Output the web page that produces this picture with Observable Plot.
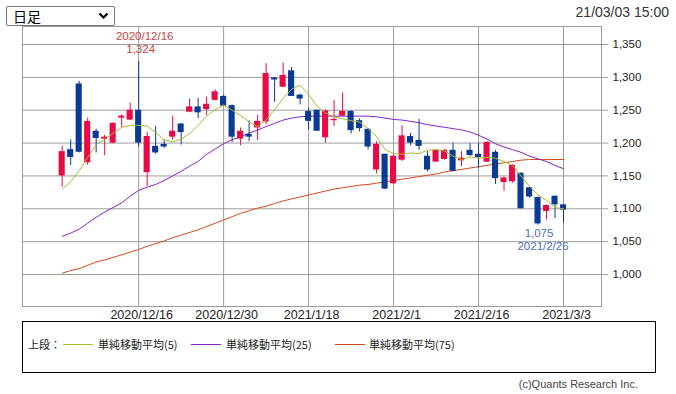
<!DOCTYPE html>
<html><head><meta charset="utf-8">
<script src="https://cdn.jsdelivr.net/npm/d3@7"></script>
<script src="https://cdn.jsdelivr.net/npm/@observablehq/plot@0.6"></script>
<style>
body{margin:0;background:#fff;width:676px;height:394px;position:relative;overflow:hidden;font-family:"Liberation Sans",Arial,sans-serif;}
#chart{position:absolute;left:0;top:0;}
#sel{position:absolute;left:6px;top:6px;width:107px;height:18px;border:1px solid #767676;border-radius:2px;background:#fff;}
#sel span{position:absolute;left:6px;top:0px;font:14px/19px "Noto Sans CJK JP",sans-serif;color:#000;}
#sel svg{position:absolute;right:5px;top:5px;}
#stamp{position:absolute;right:7px;top:3px;font:14px/18px "Liberation Sans",Arial,sans-serif;color:#333;}
#legend{position:absolute;left:22px;top:321px;width:632px;height:50px;border:1px solid #000;}
.lt{position:absolute;top:14px;font:11px/16px "Noto Sans CJK JP",sans-serif;color:#222;white-space:nowrap;}
.ll{position:absolute;top:22px;height:1px;width:30px;}
#copy{position:absolute;right:38px;top:377px;font:11px/14px "Liberation Sans",Arial,sans-serif;color:#444;}
</style></head>
<body>
<div id="chart"></div>
<div id="sel"><span>日足</span><svg width="11" height="8" viewBox="0 0 11 8"><path d="M1.5 1.5 L5.5 5.5 L9.5 1.5" stroke="#000" stroke-width="2.2" fill="none"/></svg></div>
<div id="stamp">21/03/03 15:00</div>
<div id="legend"></div>
<div id="copy">(c)Quants Research Inc.</div>
<script>
const dates = [
 "2020/12/3","2020/12/4","2020/12/7","2020/12/8","2020/12/9","2020/12/10","2020/12/11","2020/12/14","2020/12/15","2020/12/16",
 "2020/12/17","2020/12/18","2020/12/21","2020/12/22","2020/12/23","2020/12/24","2020/12/25","2020/12/28","2020/12/29","2020/12/30",
 "2021/1/4","2021/1/5","2021/1/6","2021/1/7","2021/1/8","2021/1/12","2021/1/13","2021/1/14","2021/1/15","2021/1/18",
 "2021/1/19","2021/1/20","2021/1/21","2021/1/22","2021/1/25","2021/1/26","2021/1/27","2021/1/28","2021/1/29","2021/2/1",
 "2021/2/2","2021/2/3","2021/2/4","2021/2/5","2021/2/8","2021/2/9","2021/2/10","2021/2/12","2021/2/15","2021/2/16",
 "2021/2/17","2021/2/18","2021/2/19","2021/2/22","2021/2/24","2021/2/25","2021/2/26","2021/3/1","2021/3/2","2021/3/3"];
const open = [1150,1190,1290,1170,1218,1206,1200,1238,1235,1250,
 1155,1195,1198,1209,1229,1247,1255,1251,1265,1271,
 1257,1206,1213,1223,1232,1299,1285,1310,1273,1248,
 1250,1208,1234,1241,1248,1234,1221,1159,1183,1138,
 1174,1210,1204,1180,1171,1175,1189,1173,1189,1183,
 1171,1186,1140,1141,1154,1132,1117,1096,1119,1106];
const high = [1195,1205,1294,1238,1221,1212,1231,1243,1261,1324,
 1216,1225,1205,1241,1230,1267,1268,1270,1281,1273,
 1258,1223,1234,1242,1321,1300,1322,1315,1274,1253,
 1250,1250,1265,1276,1249,1237,1222,1202,1183,1181,
 1226,1215,1236,1187,1190,1190,1200,1187,1199,1200,
 1202,1189,1148,1167,1155,1133,1118,1106,1120,1107];
const low = [1133,1166,1185,1166,1185,1181,1199,1224,1234,1194,
 1134,1183,1192,1204,1197,1246,1237,1242,1264,1256,
 1201,1196,1202,1204,1228,1262,1285,1271,1258,1220,
 1218,1200,1225,1240,1214,1217,1190,1153,1129,1137,
 1172,1196,1189,1156,1171,1174,1156,1164,1180,1161,
 1170,1137,1127,1139,1100,1116,1075,1083,1085,1078];
const close = [1187,1178,1186,1233,1207,1209,1230,1241,1250,1200,
 1210,1185,1194,1218,1216,1255,1246,1259,1278,1256,
 1209,1218,1209,1233,1306,1296,1303,1271,1267,1233,
 1218,1249,1236,1248,1219,1222,1194,1198,1130,1180,
 1211,1200,1195,1159,1189,1189,1157,1177,1181,1178,
 1201,1146,1147,1166,1100,1118,1077,1105,1106,1098];
const ma5 = [1130,1141,1158,1178,1198,1205,1215,1224,1227,1227,
 1226,1216,1205,1202,1206,1214,1227,1241,1251,1258,
 1250,1242,1232,1225,1235,1251,1268,1282,1288,1274,
 1256,1246,1240,1237,1234,1232,1222,1210,1190,1184,
 1183,1185,1184,1189,1190,1188,1180,1175,1179,1177,
 1178,1177,1172,1166,1150,1134,1121,1113,1102,1100];
const ma25 = [1058,1063,1069,1078,1087,1095,1102,1109,1119,1128,
 1133,1137,1143,1150,1157,1165,1172,1183,1191,1199,
 1205,1210,1215,1220,1225,1230,1235,1238,1240,1241,
 1241,1241,1241,1241,1241,1241,1241,1240,1238,1236,
 1235,1233,1231,1228,1226,1224,1222,1220,1217,1212,
 1206,1199,1194,1190,1186,1180,1176,1172,1166,1161];
const ma75 = [1002,1006,1009,1014,1019,1022,1026,1030,1034,1038,
 1043,1047,1051,1056,1060,1064,1068,1073,1078,1083,
 1088,1093,1097,1101,1104,1108,1112,1115,1118,1121,
 1124,1127,1130,1132,1134,1136,1137,1139,1141,1143,
 1145,1147,1149,1151,1153,1156,1158,1160,1162,1164,
 1166,1168,1170,1172,1174,1175,1175,1175,1175,1175];
const tickLabels = ["2020/12/16","2020/12/30","2021/1/18","2021/2/1","2021/2/16","2021/3/3"];
const yTicks = [1000,1050,1100,1150,1200,1250,1300,1350];
const seriesNames = ["単純移動平均(5)","単純移動平均(25)","単純移動平均(75)"];
const highNote = {date:"2020/12/16"};
const lowNote = {date:"2021/2/26"};

const RED = "#e80a46", BLUE = "#0b3a94";
const C5 = "#a9bd2e", C25 = "#8a22c6", C75 = "#d64a1e", GRID = "#9c9c9c";

const idx = d3.range(dates.length);
const rows = idx.map(i => ({i, o: open[i], h: high[i], l: low[i], c: close[i], up: close[i] >= open[i]}));
const ups = rows.filter(d => d.up), downs = rows.filter(d => !d.up);
const tickIdx = tickLabels.map(t => dates.indexOf(t));
const hi = dates.indexOf(highNote.date), lo = dates.indexOf(lowNote.date);
const notes = [
  {i: hi, v: high[hi], t: highNote.date, dx: 6, dy: -25, fill: "#c8423e"},
  {i: hi, v: high[hi], t: d3.format(",")(high[hi]), dx: 2, dy: -12, fill: "#c8423e"},
  {i: lo, v: low[lo], t: d3.format(",")(low[lo]), dx: 1, dy: 8, fill: "#4d6fc6"},
  {i: lo, v: low[lo], t: lowNote.date, dx: 5, dy: 21, fill: "#4d6fc6"}
];
const hw = 0.36;
const notesMarks = notes.map(n => Plot.text([n], {x: "i", y: "v", text: "t", dx: n.dx, dy: n.dy, fill: n.fill, fontSize: 11.5}));

const chart = Plot.plot({
  width: 676, height: 330,
  marginTop: 26, marginBottom: 24, marginLeft: 22, marginRight: 75,
  style: {fontFamily: "'Liberation Sans', Arial, sans-serif", fontSize: "11px", color: "#222", background: "transparent"},
  x: {type: "linear", domain: [-4.67, 63.47], axis: null, label: null},
  y: {domain: [951.3, 1377.4], axis: null, label: null},
  marks: [
    Plot.gridX(tickIdx, {stroke: GRID, strokeOpacity: 1}),
    Plot.gridY(yTicks, {stroke: GRID, strokeOpacity: 1}),
    Plot.frame({stroke: GRID}),
    Plot.axisY(yTicks, {anchor: "right", label: null, tickSize: 6, tickPadding: 5, tickFormat: d3.format(","), stroke: GRID, fill: "#222", fontSize: 11.5}),
    Plot.axisX(tickIdx, {anchor: "bottom", label: null, tickSize: 0, tickPadding: 4, tickFormat: i => dates[i], fill: "#222", fontSize: 12.5, dx: 3}),
    Plot.line(idx, {x: i => i, y: i => ma75[i], stroke: C75, strokeWidth: 1}),
    Plot.line(idx, {x: i => i, y: i => ma25[i], stroke: C25, strokeWidth: 1}),
    Plot.ruleX(ups, {x: "i", y1: "l", y2: "h", stroke: RED, strokeWidth: 1}),
    Plot.ruleX(downs, {x: "i", y1: "l", y2: "h", stroke: BLUE, strokeWidth: 1}),
    Plot.rect(ups, {x1: d => d.i - hw, x2: d => d.i + hw, y1: "o", y2: "c", fill: RED}),
    Plot.rect(downs, {x1: d => d.i - hw, x2: d => d.i + hw, y1: "o", y2: "c", fill: BLUE}),
    Plot.line(idx, {x: i => i, y: i => ma5[i], stroke: C5, strokeWidth: 1}),
    ...notesMarks
  ]
});
document.getElementById("chart").append(chart);

const leg = document.getElementById("legend");
const legItems = [
  {t: "上段：", x: 5},
  {line: C5, x: 40}, {t: seriesNames[0], x: 75},
  {line: C25, x: 168}, {t: seriesNames[1], x: 203},
  {line: C75, x: 312}, {t: seriesNames[2], x: 346}
];
legItems.forEach(it => {
  const el = document.createElement("div");
  if (it.line) { el.className = "ll"; el.style.background = it.line; }
  else { el.className = "lt"; el.textContent = it.t; }
  el.style.left = it.x + "px";
  leg.append(el);
});
</script>
</body></html>
